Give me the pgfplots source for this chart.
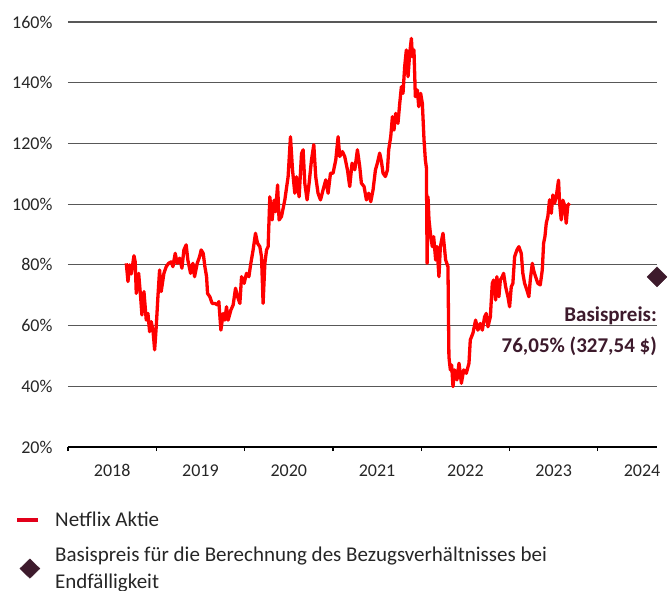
\documentclass[border=0pt]{standalone}
\usepackage{fontspec}
\setmainfont{Carlito}
\usepackage{pgfplots}
\pgfplotsset{compat=1.18}
\definecolor{netred}{HTML}{FF0000}
\definecolor{legred}{HTML}{E2001A}
\definecolor{basis}{HTML}{3D1A2C}
\definecolor{txt}{HTML}{262626}
\definecolor{gridc}{HTML}{585858}
\begin{document}
\begin{tikzpicture}
\path[use as bounding box] (-68pt,-144pt) rectangle (601pt,447pt);
\begin{axis}[
 scale only axis, width=589pt, height=425pt,
 at={(0pt,0pt)}, anchor=south west,
 xmin=2018, xmax=2024.669, ymin=20, ymax=160,
 axis lines*=left,
 y axis line style={draw=none},
 x axis line style={black, line width=1.2pt},
 ytick={20,40,...,160},
 yticklabel={\pgfmathprintnumber{\tick}\%},
 ymajorgrids, grid style={gridc, line width=1.2pt},
 xtick={2018.5,2019.5,...,2024.5},
 xticklabels={2018,2019,2020,2021,2022,2023,2024},
 minor xtick={2018,...,2024},
 major tick length=0pt, minor tick length=4pt,
 tick align=outside,
 minor tick style={black, line width=1.2pt},
 ytick style={draw=none},
 tick label style={font=\fontsize{18}{20}\selectfont, text=txt},
 /pgf/number format/assume math mode=true,
 xticklabel style={yshift=-14pt},
 yticklabel style={xshift=-12pt},
 clip=false,
 legend cell align=left,
 legend style={at={(axis description cs:-0.090,-0.147)}, anchor=north west,
   draw=none, fill=none, font=\fontsize{21}{27.6}\selectfont, text=txt,
   cells={align=left}, row sep=15pt, inner sep=0pt,
   /tikz/every odd column/.append style={column sep=13pt}},
]
\addplot[netred, line width=3.3pt, line join=round,
  legend image code/.code={\draw[legred, line width=4pt] (0pt,0pt) -- (21pt,0pt);}]
coordinates {
(2018.660,80.5) (2018.679,74.5) (2018.698,80) (2018.716,77) (2018.747,83) (2018.761,81)
(2018.773,70.6) (2018.800,77.2) (2018.822,69.5) (2018.837,63.5) (2018.860,71.2) (2018.886,61.8)
(2018.905,64) (2018.924,58) (2018.942,61.3) (2018.962,58.5) (2018.981,52) (2018.999,59.6)
(2019.018,69.5) (2019.037,78.3) (2019.055,71.2) (2019.086,77.2) (2019.112,79.4) (2019.139,80.5)
(2019.169,81) (2019.188,79.4) (2019.214,83.8) (2019.236,80.5) (2019.264,82.2) (2019.290,78.9)
(2019.312,84.9) (2019.338,86.6) (2019.357,81.6) (2019.388,77.2) (2019.414,80.5) (2019.433,76.1)
(2019.463,80.5) (2019.490,82.7) (2019.508,84.9) (2019.531,83.8) (2019.550,79.4) (2019.569,76.1)
(2019.580,70.6) (2019.606,69.5) (2019.632,67.3) (2019.663,67.3) (2019.693,66.8) (2019.708,67.9)
(2019.731,58.5) (2019.757,64) (2019.776,61.8) (2019.795,66.2) (2019.813,61.8) (2019.844,65.1)
(2019.870,66.8) (2019.897,72.3) (2019.920,69.5) (2019.946,67.3) (2019.965,76.1) (2019.994,73.9)
(2020.021,77.2) (2020.048,76.1) (2020.070,80.5) (2020.096,84.9) (2020.123,90.4) (2020.146,87.1)
(2020.172,86) (2020.191,82.7) (2020.209,67.3) (2020.229,80.5) (2020.248,84.9) (2020.266,86)
(2020.285,102.4) (2020.311,94.8) (2020.334,101.3) (2020.350,97.5) (2020.373,106.3) (2020.390,94.8)
(2020.417,95.9) (2020.455,101.4) (2020.492,109) (2020.519,122.2) (2020.542,111.3) (2020.568,103.6)
(2020.587,109) (2020.617,102.4) (2020.644,116.6) (2020.662,117.9) (2020.681,106.9) (2020.707,101.4)
(2020.730,106.9) (2020.757,114.6) (2020.783,119.6) (2020.805,109) (2020.831,103.6) (2020.859,101.4)
(2020.888,104.7) (2020.919,108) (2020.945,103.6) (2020.972,110.2) (2021.001,110.2) (2021.032,114.6)
(2021.058,122.2) (2021.077,115.7) (2021.107,117.3) (2021.133,115.7) (2021.164,111.3) (2021.190,105.8)
(2021.216,113.5) (2021.247,111.3) (2021.277,117.9) (2021.303,112.4) (2021.322,106.9) (2021.352,105.8)
(2021.379,101.4) (2021.405,103.6) (2021.428,100.8) (2021.454,104.7) (2021.481,111.3) (2021.503,113.5)
(2021.529,116.8) (2021.549,114) (2021.567,110.2) (2021.594,109.1) (2021.617,111.3) (2021.631,117.9)
(2021.654,122.2) (2021.673,128.8) (2021.691,124.4) (2021.710,129.9) (2021.736,126.6) (2021.756,133.2)
(2021.775,138.7) (2021.793,136.5) (2021.812,145.3) (2021.831,150.8) (2021.850,142) (2021.869,149.7)
(2021.888,154.6) (2021.899,148.6) (2021.917,150.8) (2021.933,135.4) (2021.956,137.6) (2021.971,132.1)
(2021.993,136.5) (2022.012,133.2) (2022.031,121.2) (2022.046,114.6) (2022.058,112) (2022.066,80.5)
(2022.076,102.4) (2022.087,95) (2022.103,90.4) (2022.125,86) (2022.140,89.3) (2022.163,81.6)
(2022.178,86) (2022.200,76.1) (2022.216,86) (2022.246,90.4) (2022.276,81.6) (2022.302,79.4)
(2022.313,49.7) (2022.329,45.4) (2022.344,47) (2022.359,39.9) (2022.378,45.4) (2022.404,42.1)
(2022.427,47.6) (2022.454,41) (2022.480,45.4) (2022.510,44.3) (2022.540,47.6) (2022.555,55.3)
(2022.585,57.5) (2022.615,61.8) (2022.641,58.5) (2022.668,60.7) (2022.691,58.5) (2022.717,62.9)
(2022.736,64) (2022.755,59.6) (2022.782,62.9) (2022.804,73.9) (2022.819,75) (2022.842,68.4)
(2022.856,76.1) (2022.879,69.5) (2022.895,75) (2022.917,76.1) (2022.932,77.2) (2022.955,72.8)
(2022.981,69.5) (2023.000,66.2) (2023.019,72.8) (2023.037,73.9) (2023.057,82.7) (2023.083,84.9)
(2023.105,86) (2023.132,83.8) (2023.150,77.2) (2023.170,73.9) (2023.196,71.7) (2023.218,69.5)
(2023.234,75) (2023.257,80.5) (2023.271,78.3) (2023.294,76.1) (2023.320,73.9) (2023.347,73.4)
(2023.370,78.3) (2023.385,87.1) (2023.400,89.3) (2023.415,93.7) (2023.433,95.9) (2023.452,101.4)
(2023.472,97) (2023.490,103) (2023.509,100.3) (2023.528,102.4) (2023.554,107.9) (2023.566,100.3)
(2023.585,94.8) (2023.603,101.3) (2023.622,99.6) (2023.641,93.7) (2023.659,99.6) (2023.679,100.3)
};
\addlegendentry{Netflix Aktie}
\addplot[only marks, mark=square*, mark size=7pt, mark options={rotate=45, fill=basis, draw=basis},
  legend image code/.code={\fill[basis] (12.7pt,9.7pt) -- (22.7pt,0pt) -- (12.7pt,-9.7pt) -- (2.7pt,0pt) -- cycle;}]
coordinates {(2024.669,76.05)};
\addlegendentry{Basispreis für die Berechnung des Bezugsverhältnisses bei\\Endfälligkeit}
\node[anchor=base east, inner sep=0pt, font=\fontsize{21}{25}\selectfont\bfseries, text=basis]
  at (axis cs:2024.669,61.3) {Basispreis:};
\node[anchor=base east, inner sep=0pt, font=\fontsize{21}{25}\selectfont\bfseries, text=basis]
  at (axis cs:2024.669,51.0) {76,05\% (327,54~\$)};
\end{axis}
\end{tikzpicture}
\end{document}
